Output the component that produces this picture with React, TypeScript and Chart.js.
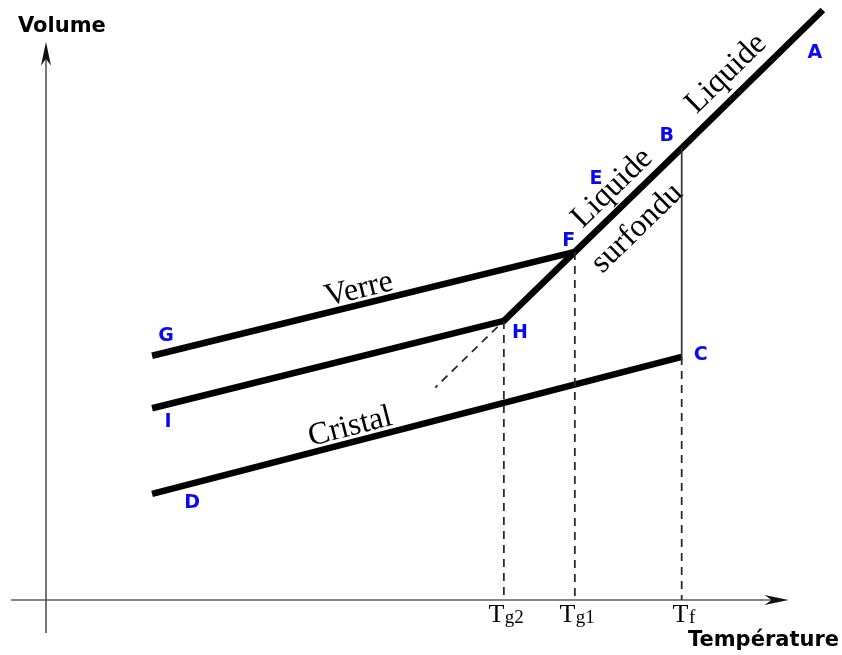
import React, { useEffect, useRef } from "react";
import { Chart, registerables } from "chart.js";

Chart.register(...registerables);

// ---- Data (arbitrary units: T = temperature, V = volume) ----
const pointNames = ["A", "B", "C", "D", "E", "F", "G", "H", "I"];
const pointT = [99.6, 81.5, 81.5, 13.6, 74.5, 67.8, 13.6, 58.7, 13.6];
const pointV = [100.0, 76.6, 41.2, 18.0, 67.6, 59.0, 41.4, 47.3, 32.5];

// thick curves (as sequences of named points)
const liquidePath = ["A", "B", "F", "H", "I"]; // liquide -> liquide surfondu -> verre (lent)
const verrePath = ["G", "F"]; // verre (rapide)
const cristalPath = ["D", "C"]; // cristal
const fusionPath = ["B", "C"]; // solidification at Tf

// dashed extension of the supercooled liquid below H
const extensionT = [57.9, 49.9];
const extensionV = [46.3, 36.0];

// temperature ticks
const tickPoints = ["H", "F", "C"];
const tickMain = ["T", "T", "T"];
const tickSub = ["g2", "g1", "f"];

// axes extents
const axisTRange = [-4.5, 95.2];
const axisVRange = [-5.6, 94.6];
const axisTitleX = "Température";
const axisTitleY = "Volume";

// region labels: text, anchor (T, V), segment giving orientation
const regionText = ["Liquide", "Liquide", "surfondu", "Verre", "Cristal"];
const regionT = [87.2, 72.6, 75.8, 40.1, 39.0];
const regionV = [89.2, 69.8, 63.0, 52.6, 29.3];
const regionAlong = [["H", "A"], ["H", "A"], ["H", "A"], ["G", "F"], ["D", "C"]];

// ---- helpers ----
const idx = (n: string) => pointNames.indexOf(n);
const pt = (n: string) => ({ x: pointT[idx(n)], y: pointV[idx(n)] });
const path = (names: string[]) => names.map(pt);

// label pixel offsets (style)
const labelOffsets: Record<string, [number, number]> = {
  A: [-8, 43],
  B: [-15, -12],
  C: [19, -2],
  D: [40, 9],
  E: [-31, -22],
  F: [-6, -11],
  G: [14, -20],
  H: [16, 12],
  I: [16, 14],
};

function drawArrow(ctx: CanvasRenderingContext2D, tx: number, ty: number, ang: number) {
  const len = 24;
  const hw = 5;
  const notch = 7;
  ctx.save();
  ctx.translate(tx, ty);
  ctx.rotate(ang);
  ctx.beginPath();
  ctx.moveTo(0, 0);
  ctx.lineTo(-len, -hw);
  ctx.lineTo(-len + notch, 0);
  ctx.lineTo(-len, hw);
  ctx.closePath();
  ctx.fill();
  ctx.restore();
}

const decorPlugin = {
  id: "decor",
  beforeDatasetsDraw(chart: any) {
    const { ctx } = chart;
    const xs = chart.scales.x;
    const ys = chart.scales.y;
    const px = (v: number) => xs.getPixelForValue(v);
    const py = (v: number) => ys.getPixelForValue(v);
    ctx.save();
    ctx.strokeStyle = "#5e5e5e";
    ctx.fillStyle = "#111";
    ctx.lineWidth = 1.7;
    const y0 = py(0);
    const x0 = px(0);
    // x axis
    ctx.beginPath();
    ctx.moveTo(px(axisTRange[0]), y0);
    ctx.lineTo(px(axisTRange[1]) - 10, y0);
    ctx.stroke();
    drawArrow(ctx, px(axisTRange[1]), y0, 0);
    // y axis
    ctx.beginPath();
    ctx.moveTo(x0, py(axisVRange[0]));
    ctx.lineTo(x0, py(axisVRange[1]) + 10);
    ctx.stroke();
    drawArrow(ctx, x0, py(axisVRange[1]), -Math.PI / 2);
    ctx.restore();
  },
  afterDatasetsDraw(chart: any) {
    const { ctx } = chart;
    const xs = chart.scales.x;
    const ys = chart.scales.y;
    const px = (v: number) => xs.getPixelForValue(v);
    const py = (v: number) => ys.getPixelForValue(v);
    ctx.save();

    // axis titles
    ctx.fillStyle = "#000";
    ctx.font = "bold 21px 'DejaVu Sans'";
    ctx.textBaseline = "alphabetic";
    ctx.textAlign = "left";
    ctx.fillText(axisTitleY, px(0) - 28, 32);
    ctx.textAlign = "right";
    ctx.fillText(axisTitleX, chart.width - 3, py(0) + 46);

    // tick labels with subscripts
    const mainFont = "26px 'Liberation Serif'";
    const subFont = "19px 'Liberation Serif'";
    tickPoints.forEach((n, i) => {
      const cx = px(pt(n).x);
      ctx.font = mainFont;
      const w1 = ctx.measureText(tickMain[i]).width;
      ctx.font = subFont;
      const w2 = ctx.measureText(tickSub[i]).width;
      const left = cx - (w1 + w2) / 2 + 2;
      const base = py(0) + 22;
      ctx.textAlign = "left";
      ctx.font = mainFont;
      ctx.fillText(tickMain[i], left, base);
      ctx.font = subFont;
      ctx.fillText(tickSub[i], left + w1 + 0.5, base + 1);
    });

    // region labels (rotated serif)
    ctx.font = "32px 'Liberation Serif'";
    ctx.textAlign = "center";
    ctx.textBaseline = "middle";
    regionText.forEach((t, i) => {
      const [a, b] = regionAlong[i];
      const pa = pt(a);
      const pb = pt(b);
      const ang = Math.atan2(py(pb.y) - py(pa.y), px(pb.x) - px(pa.x));
      ctx.save();
      ctx.translate(px(regionT[i]), py(regionV[i]));
      ctx.rotate(ang);
      ctx.fillText(t, 0, 0);
      ctx.restore();
    });

    // point letters
    ctx.fillStyle = "#0a0af2";
    ctx.font = "bold 19px 'DejaVu Sans'";
    ctx.textAlign = "center";
    ctx.textBaseline = "middle";
    pointNames.forEach((n, i) => {
      const off = labelOffsets[n] || [0, 0];
      ctx.fillText(n, px(pointT[i]) + off[0], py(pointV[i]) + off[1]);
    });
    ctx.restore();
  },
};

export default function App() {
  const ref = useRef<HTMLCanvasElement | null>(null);
  useEffect(() => {
    document.body.style.margin = "0";
    const canvas = ref.current;
    if (!canvas) return;
    const thick = {
      borderColor: "#000",
      borderWidth: 6.5,
      borderCapStyle: "butt",
      borderJoinStyle: "miter",
      showLine: true,
      pointRadius: 0,
      clip: false,
    };
    const dashed = {
      borderColor: "#2a2a2a",
      borderWidth: 1.8,
      borderDash: [8, 6],
      showLine: true,
      pointRadius: 0,
      clip: false,
    };
    const dropLine = (n: string) => [pt(n), { x: pt(n).x, y: 0 }];
    const chart = new Chart(canvas, {
      type: "scatter",
      data: {
        datasets: [
          { ...dashed, data: dropLine("C") },
          { ...dashed, data: dropLine("F") },
          { ...dashed, data: dropLine("H") },
          { ...dashed, data: extensionT.map((t, i) => ({ x: t, y: extensionV[i] })) },
          {
            borderColor: "#333",
            borderWidth: 1.7,
            showLine: true,
            pointRadius: 0,
            clip: false,
            data: path(fusionPath),
          },
          { ...thick, data: path(liquidePath) },
          { ...thick, data: path(verrePath) },
          { ...thick, data: path(cristalPath) },
        ] as any,
      },
      options: {
        animation: false,
        responsive: false,
        maintainAspectRatio: false,
        devicePixelRatio: 1,
        layout: { padding: { left: 46, right: 16, top: 10, bottom: 55 } },
        scales: {
          x: { type: "linear", min: 0, max: 100, display: false },
          y: { type: "linear", min: 0, max: 100, display: false },
        },
        plugins: {
          legend: { display: false },
          tooltip: { enabled: false },
        },
        events: [],
      } as any,
      plugins: [decorPlugin],
    });
    return () => chart.destroy();
  }, []);
  return (
    <div style={{ position: "absolute", left: 0, top: 0, width: 842, height: 655, background: "#fff" }}>
      <canvas ref={ref} width={842} height={655} style={{ display: "block" }} />
    </div>
  );
}
